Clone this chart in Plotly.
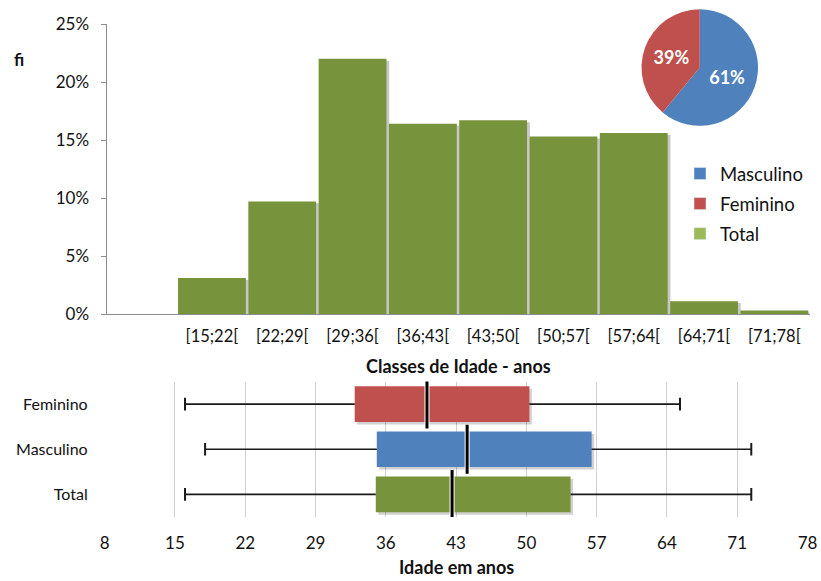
import plotly.graph_objects as go

# ---- data ----
class_starts = [15, 22, 29, 36, 43, 50, 57, 64, 71]
class_width = 7
class_labels = ["[15;22[", "[22;29[", "[29;36[", "[36;43[", "[43;50[",
                "[50;57[", "[57;64[", "[64;71[", "[71;78["]
fi = [0.031, 0.097, 0.220, 0.164, 0.167, 0.153, 0.156, 0.011, 0.003]

sexo_labels = ["Masculino", "Feminino"]
sexo_pct = [61, 39]

grupos = ["Total", "Masculino", "Feminino"]
minimo = [16.0, 18.0, 16.0]
q1 = [35.0, 35.1, 32.9]
mediana = [42.6, 44.1, 40.1]
q3 = [54.4, 56.5, 50.3]
maximo = [72.4, 72.4, 65.3]

idade_ticks = [8, 15, 22, 29, 36, 43, 50, 57, 64, 71, 78]

# ---- styling ----
W, H = 821, 581
FONT = "Lato"
TXT = "#111111"
GREEN = "#77933C"
GREEN_LEG = "#9BBB59"
BLUE = "#4F81BD"
RED = "#C0504D"
cores_grupo = {"Total": GREEN, "Masculino": BLUE, "Feminino": RED}
cores_sexo = {"Masculino": BLUE, "Feminino": RED}


def px_x(v):
    return v / W


def px_y(v):
    return 1 - v / H


centers = [s + class_width / 2 for s in class_starts]
bar_w = class_width * 0.965

fig = go.Figure()

# histogram shadow
fig.add_trace(go.Bar(
    x=centers, y=fi, base=-0.0016, width=bar_w, offset=-bar_w / 2 + 0.28,
    marker=dict(color="rgba(0,0,0,0.22)", line_width=0),
    xaxis="x", yaxis="y", showlegend=False, hoverinfo="skip"))
# histogram
fig.add_trace(go.Bar(
    x=centers, y=fi, width=bar_w, name="Total",
    marker=dict(color=GREEN, line_width=0),
    xaxis="x", yaxis="y", showlegend=False))

# box bodies: shadow then fill
iqr = [b - a for a, b in zip(q1, q3)]
fig.add_trace(go.Bar(
    y=grupos, x=iqr, base=[a + 0.25 for a in q1], orientation="h",
    width=0.79, offset=-0.45,
    marker=dict(color="rgba(0,0,0,0.18)", line_width=0),
    xaxis="x2", yaxis="y2", showlegend=False, hoverinfo="skip"))
fig.add_trace(go.Bar(
    y=grupos, x=iqr, base=q1, orientation="h", width=0.79,
    marker=dict(color=[cores_grupo[g] for g in grupos], line_width=0),
    xaxis="x2", yaxis="y2", showlegend=False))

# whiskers and caps
for g, lo, a, b, hi in zip(grupos, minimo, q1, q3, maximo):
    fig.add_trace(go.Scatter(
        x=[lo, a, None, b, hi], y=[g] * 5, mode="lines",
        line=dict(color="#1a1a1a", width=1.6),
        xaxis="x2", yaxis="y2", showlegend=False, hoverinfo="skip"))
    fig.add_trace(go.Scatter(
        x=[lo, hi], y=[g, g], mode="markers",
        marker=dict(symbol="line-ns", size=9, line=dict(color="#1a1a1a", width=2)),
        xaxis="x2", yaxis="y2", showlegend=False, hoverinfo="skip"))

# medians
fig.add_trace(go.Scatter(
    x=mediana, y=grupos, mode="markers",
    marker=dict(symbol="line-ns", size=35, line=dict(color="white", width=5)),
    xaxis="x2", yaxis="y2", showlegend=False, hoverinfo="skip"))
fig.add_trace(go.Scatter(
    x=mediana, y=grupos, mode="markers",
    marker=dict(symbol="line-ns", size=35, line=dict(color="black", width=3)),
    xaxis="x2", yaxis="y2", showlegend=False, hoverinfo="skip"))

# sex split pie
fig.add_trace(go.Pie(
    labels=sexo_labels, values=sexo_pct, sort=False, direction="clockwise",
    marker=dict(colors=[cores_sexo[s] for s in sexo_labels], line=dict(width=0)),
    texttemplate="%{percent:.0%}", textposition="inside",
    insidetextfont=dict(family=FONT, size=18, color="white", weight="bold"),
    domain=dict(x=[px_x(641.5), px_x(758)], y=[px_y(126), px_y(9)]),
    showlegend=False, hoverinfo="label+percent"))

# legend entries
legend_items = list(zip(sexo_labels, [cores_sexo[s] for s in sexo_labels])) + [("Total", GREEN_LEG)]
for nome, cor in legend_items:
    fig.add_trace(go.Bar(
        x=[None], y=[None], name=nome, marker_color=cor,
        xaxis="x", yaxis="y", legendgroup=nome, showlegend=True))

fig.update_layout(
    width=W, height=H,
    margin=dict(l=0, r=0, t=0, b=0, autoexpand=False),
    paper_bgcolor="white", plot_bgcolor="white",
    barmode="overlay",
    font=dict(family=FONT, color=TXT),
    legend=dict(
        x=px_x(680), y=px_y(155), xanchor="left", yanchor="top",
        font=dict(family=FONT, size=18.5, color=TXT),
        traceorder="grouped", tracegroupgap=3,
        bgcolor="rgba(0,0,0,0)", itemclick=False),
    xaxis=dict(
        domain=[px_x(106.5), px_x(809.5)], range=[8, 78],
        tickvals=centers, ticktext=class_labels,
        tickfont=dict(family=FONT, size=16.5, color=TXT),
        ticks="", showgrid=False, zeroline=False,
        showline=True, linecolor="#8c8c8c", linewidth=1,
        ticklabelstandoff=7, fixedrange=True, automargin=False),
    yaxis=dict(
        domain=[px_y(314), px_y(24)], range=[0, 0.25],
        tickvals=[0, 0.05, 0.10, 0.15, 0.20, 0.25], tickformat=".0%",
        tickfont=dict(family=FONT, size=17, color=TXT),
        ticks="outside", ticklen=5, tickcolor="#8c8c8c",
        showgrid=False, zeroline=False,
        showline=True, linecolor="#8c8c8c", linewidth=1,
        ticklabelstandoff=8, fixedrange=True, automargin=False),
    xaxis2=dict(
        domain=[px_x(104.7), px_x(807.5)], range=[8, 78],
        tickvals=idade_ticks,
        tickfont=dict(family=FONT, size=17, color=TXT),
        ticks="", showgrid=True, gridcolor="#cfcfcf", gridwidth=1,
        zeroline=False, showline=False, anchor="y2",
        ticklabelstandoff=14, fixedrange=True, automargin=False),
    yaxis2=dict(
        domain=[px_y(517), px_y(381.5)], type="category",
        categoryorder="array", categoryarray=grupos, range=[-0.5, 2.5],
        tickfont=dict(family=FONT, size=16, color=TXT),
        ticks="", showgrid=False, zeroline=False, showline=False,
        anchor="x2", ticklabelstandoff=16, fixedrange=True, automargin=False),
    annotations=[
        dict(text="<b>fi</b>", x=px_x(19), y=px_y(60), xref="paper", yref="paper",
             xanchor="center", yanchor="middle", showarrow=False,
             font=dict(family=FONT, size=17, color=TXT)),
        dict(text="<b>Classes de Idade - anos</b>", x=px_x(458), y=px_y(366),
             xref="paper", yref="paper", xanchor="center", yanchor="middle",
             showarrow=False, font=dict(family=FONT, size=18, color=TXT)),
        dict(text="<b>Idade em anos</b>", x=px_x(457), y=px_y(567),
             xref="paper", yref="paper", xanchor="center", yanchor="middle",
             showarrow=False, font=dict(family=FONT, size=18, color=TXT)),
    ],
)

fig.write_html("out.html")
